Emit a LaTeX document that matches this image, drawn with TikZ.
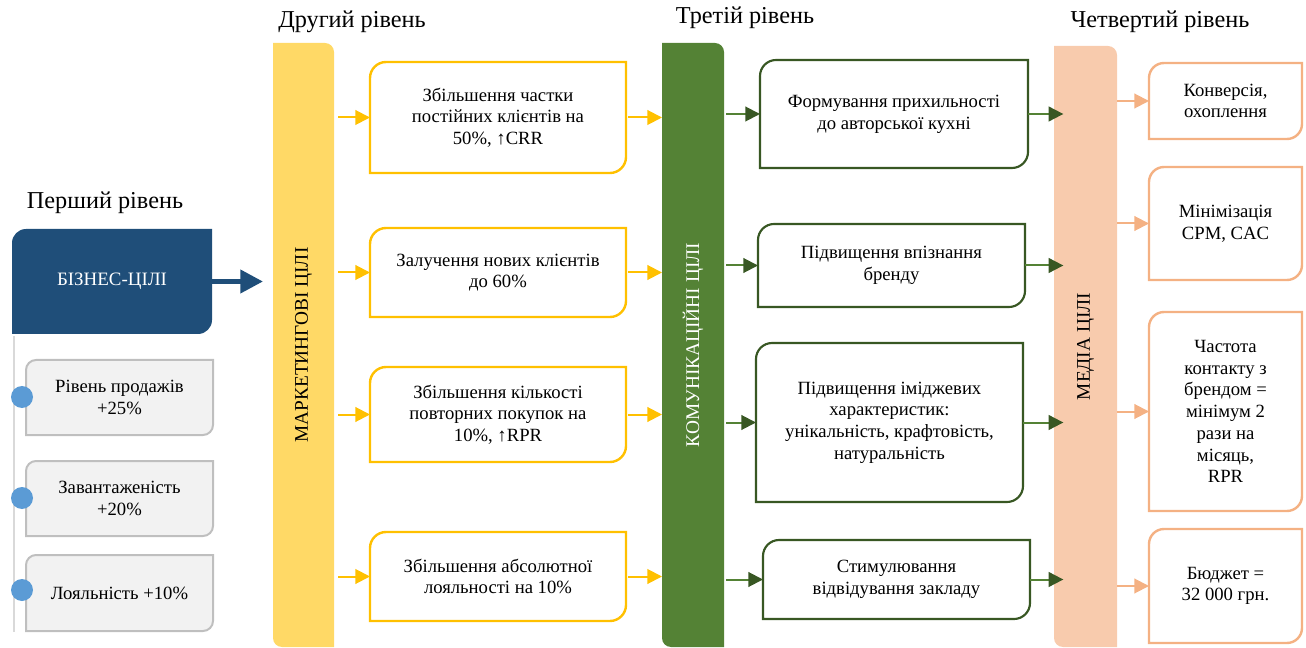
\documentclass[tikz,border=0pt]{standalone}
\usepackage{fontspec}
\setmainfont{Liberation Serif}
\usetikzlibrary{arrows.meta,calc,backgrounds}

\definecolor{bizblue}{HTML}{1F4E79}
\definecolor{dotblue}{HTML}{5B9BD5}
\definecolor{greyfill}{HTML}{F2F2F2}
\definecolor{greyline}{HTML}{BFBFBF}
\definecolor{spinegrey}{HTML}{D9D9D9}
\definecolor{ybar}{HTML}{FFD966}
\definecolor{yline}{HTML}{FFC000}
\definecolor{gbar}{HTML}{548235}
\definecolor{gline}{HTML}{385723}
\definecolor{obar}{HTML}{F8CBAD}
\definecolor{oline}{HTML}{F4B183}

\newcommand{\uu}{0.75pt}
% frame with rounded top left and bottom right corners
\newcommand{\diagframe}[3]{%
  \begin{pgfonlayer}{background}
  \draw[#1] ($(#2.north west)+(0,#3)$) .. controls ($(#2.north west)+(0,0.45*#3)$) and ($(#2.north west)+(0.45*#3,0)$) .. ($(#2.north west)+(#3,0)$)
    -- (#2.north east) -- ($(#2.south east)+(0,-#3)$) .. controls ($(#2.south east)+(0,-0.45*#3)$) and ($(#2.south east)+(-0.45*#3,0)$) .. ($(#2.south east)+(-#3,0)$)
    -- (#2.south west) -- cycle ;
  \end{pgfonlayer}}
% frame with rounded top right and bottom left corners
\newcommand{\barframe}[3]{%
  \begin{pgfonlayer}{background}
  \draw[#1] (#2.north west) -- ($(#2.north east)+(-#3,0)$) .. controls ($(#2.north east)+(-0.45*#3,0)$) and ($(#2.north east)+(0,0.45*#3)$) .. ($(#2.north east)+(0,#3)$)
    -- (#2.south east) -- ($(#2.south west)+(#3,0)$) .. controls ($(#2.south west)+(0.45*#3,0)$) and ($(#2.south west)+(0,-0.45*#3)$) .. ($(#2.south west)+(0,-#3)$)
    -- cycle ;
  \end{pgfonlayer}}

\tikzset{every picture/.style={line width=0.75pt},
  box/.style={inner sep=0pt, outer sep=0pt, align=center, font=\fontsize{14}{16.3}\selectfont},
  title/.style={inner sep=0pt, font=\fontsize{18.2}{21}\selectfont},
  bartext/.style={inner sep=0pt, outer sep=0pt, font=\fontsize{14.5}{17}\selectfont},
  yframe/.style={draw=yline, line width=1.8pt, fill=white},
  gframe/.style={draw=gline, line width=1.6pt, fill=white},
  oframe/.style={draw=oline, line width=1.8pt, fill=white},
  greyframe/.style={draw=greyline, line width=1.5pt, fill=greyfill},
  solid fill/.style={draw=none, fill=#1},
  dot/.style={circle, fill=dotblue, minimum size=22*\uu, inner sep=0pt},
  spine/.style={draw=spinegrey, line width=1.2pt},
  barrow/.style={draw=bizblue, line width=3.8pt, -{Triangle[length=17pt,width=17pt]}, shorten >=7.5pt},
  yarrow/.style={draw=yline, line width=1.5pt, -{Triangle[length=11pt,width=11pt]}},
  garrow/.style={draw=gbar, line width=1.5pt, -{Triangle[length=11pt,width=11pt,color=gline]}},
  oarrow/.style={draw=oline, line width=1.5pt, -{Triangle[length=11pt,width=11pt]}}}

\begin{document}
\begin{tikzpicture}[x=0.75pt,y=0.75pt,yscale=-1,xscale=1]
	\useasboundingbox (0,0) rectangle (1306,648);

	% Titles
	\node[title] (t1) at (105,203) {Перший рівень};
	\node[title] (t2) at (352,22) {Другий рівень};
	\node[title] (t3) at (745,18) {Третій рівень};
	\node[title] (t4) at (1160,22) {Четвертий рівень};

	%Shape: Business goals
	\node[box, text=white, font=\fontsize{14.2}{17}\selectfont, minimum width=200*\uu, minimum height=105*\uu] (bb) at (112,281.5) {БІЗНЕС-ЦІЛІ};
	\diagframe{solid fill=bizblue}{bb}{14}
	\coordinate (s0) at (14,336);
	\coordinate (s1) at (14,632);
	\draw[spine] (s0) -- (s1);

	\node[box, minimum width=187*\uu, minimum height=75*\uu] (k1) at (119.5,397.5) {Рівень продажів\\+25\%};
	\node[box, minimum width=187*\uu, minimum height=75*\uu] (k2) at (119.5,498.5) {Завантаженість\\+20\%};
	\node[box, minimum width=187*\uu, minimum height=76*\uu] (k3) at (119.5,593) {Лояльність +10\%};
	\foreach \n in {1,2,3} {\diagframe{greyframe}{k\n}{10}}
	\node[dot] (d1) at (22,397) {};
	\node[dot] (d2) at (22,498) {};
	\node[dot] (d3) at (22,590) {};

	%Shape: Bars
	\node[bartext, minimum width=61*\uu, minimum height=604*\uu] (mb) at (303.5,345) {\rotatebox{90}{МАРКЕТИНГОВІ ЦІЛІ}};
	\barframe{solid fill=ybar}{mb}{9}
	\node[bartext, text=white, minimum width=62*\uu, minimum height=604*\uu] (gb) at (693,345) {\rotatebox{90}{КОМУНІКАЦІЙНІ ЦІЛІ}};
	\barframe{solid fill=gbar}{gb}{9}
	\node[bartext, minimum width=63*\uu, minimum height=601*\uu] (ob) at (1085.5,346.5) {\rotatebox{90}{МЕДІА ЦІЛІ}};
	\barframe{solid fill=obar}{ob}{9}

	\draw[barrow] (bb.east) -- (mb.west |- bb.east);

	%Shape: Marketing goals
	\node[box, minimum width=256*\uu, minimum height=111*\uu] (y1) at (498,117.5) {Збільшення частки\\постійних клієнтів на\\50\%, ↑CRR};
	\node[box, minimum width=256*\uu, minimum height=89*\uu] (y2) at (498,272.5) {Залучення нових клієнтів\\до 60\%};
	\node[box, minimum width=256*\uu, minimum height=95*\uu] (y3) at (498,414.5) {Збільшення кількості\\повторних покупок на\\10\%, ↑RPR};
	\node[box, minimum width=256*\uu, minimum height=89*\uu] (y4) at (498,576.5) {Збільшення абсолютної\\лояльності на 10\%};

	%Shape: Communication goals
	\node[box, minimum width=268*\uu, minimum height=108*\uu] (g1) at (894,114) {Формування прихильності\\до авторської кухні};
	\node[box, minimum width=267*\uu, minimum height=83*\uu] (g2) at (891.5,265.5) {Підвищення впізнання\\бренду};
	\node[box, minimum width=267*\uu, minimum height=159*\uu] (g3) at (889.5,422.5) {Підвищення іміджевих\\характеристик:\\унікальність, крафтовість,\\натуральність};
	\node[box, minimum width=267*\uu, minimum height=79*\uu] (g4) at (896.5,579.5) {Стимулювання\\відвідування закладу};

	%Shape: Media goals
	\node[box, minimum width=153*\uu, minimum height=76*\uu] (o1) at (1225.5,101) {Конверсія,\\охоплення};
	\node[box, minimum width=153*\uu, minimum height=113*\uu] (o2) at (1225.5,223.5) {Мінімізація\\CPM, CAC};
	\node[box, minimum width=153*\uu, minimum height=199*\uu] (o3) at (1225.5,411.5) {Частота\\контакту з\\брендом =\\мінімум 2\\рази на\\місяць,\\RPR};
	\node[box, minimum width=153*\uu, minimum height=114*\uu] (o4) at (1225.5,586) {Бюджет =\\32 000 грн.};

	\foreach \n in {1,...,4} {
		\diagframe{yframe}{y\n}{16}
		\diagframe{gframe}{g\n}{16}
		\diagframe{oframe}{o\n}{15}
		%Straight Lines
		\draw[yarrow, shorten <=3pt] (mb.east |- y\n.west) -- (y\n.west);
		\draw[yarrow, shorten <=1.5pt] (y\n.east) -- (gb.west |- y\n.east);
		\draw[garrow, shorten <=1.5pt] (gb.east |- g\n.west) -- (g\n.west);
		\draw[garrow, shorten >=-7pt] (g\n.east) -- (ob.west |- g\n.east);
		\draw[oarrow] (ob.east |- o\n.west) -- (o\n.west);
	}

\end{tikzpicture}
\end{document}
